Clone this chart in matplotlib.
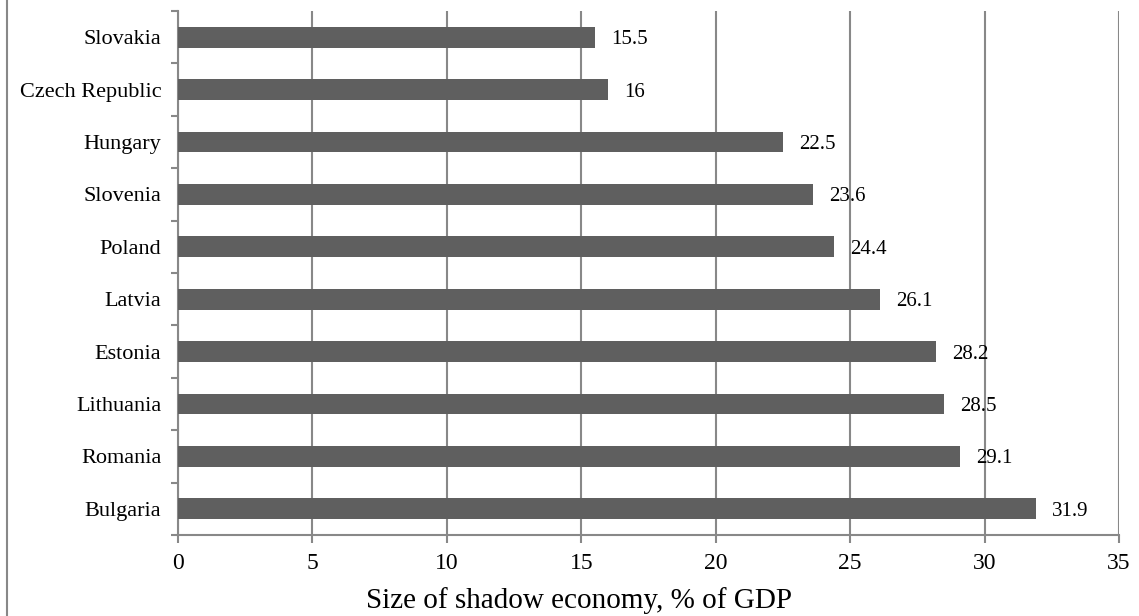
import matplotlib.pyplot as plt
from matplotlib.lines import Line2D

countries = ["Slovakia", "Czech Republic", "Hungary", "Slovenia", "Poland",
             "Latvia", "Estonia", "Lithuania", "Romania", "Bulgaria"]
shadow = [15.5, 16, 22.5, 23.6, 24.4, 26.1, 28.2, 28.5, 29.1, 31.9]
xticks = [0, 5, 10, 15, 20, 25, 30, 35]

plt.rcParams['font.family'] = ['Liberation Serif', 'DejaVu Serif']
grey = '#888888'

fig = plt.figure(figsize=(11.39, 6.16), dpi=100)
ax = fig.add_axes([178/1139, 1 - 535/616, (1119-178)/1139, (535-11)/616])

ypos = list(range(len(countries)))[::-1]
ax.barh(ypos, shadow, height=0.4, color='#5f5f5f', zorder=3)
for y, v in zip(ypos, shadow):
    ax.text(v + 0.6, y, f"{v:g}", va='center_baseline', ha='left', fontsize=15, zorder=4)

ax.set_xlim(0, 35)
ax.set_ylim(-0.5, len(countries) - 0.5)
ax.set_xticks(xticks)
ax.set_xticklabels([str(t) for t in xticks], fontsize=17)
ax.set_yticks(ypos)
ax.set_yticklabels(countries, fontsize=16)
ax.set_yticks([i - 0.5 for i in range(len(countries) + 1)], minor=True)

ax.tick_params(axis='y', which='major', length=0, pad=12)
ax.tick_params(axis='y', which='minor', length=5, width=1.5, color=grey, direction='out')
ax.tick_params(axis='x', length=6, width=1.5, color=grey, pad=7)

ax.grid(axis='x', color=grey, linewidth=1.5, zorder=0)
for side in ['top', 'right']:
    ax.spines[side].set_visible(False)
for side in ['left', 'bottom']:
    ax.spines[side].set_color(grey)
    ax.spines[side].set_linewidth(1.5)

fig.text(579/1139, 1 - 601/616, "Size of shadow economy, % of GDP",
         ha='center', va='center', fontsize=21)

# frame edge on the left
fig.add_artist(Line2D([6.5/1139, 6.5/1139], [0, 1], color=grey, linewidth=1.5,
                      transform=fig.transFigure))

fig.savefig("out.png", dpi=100)
